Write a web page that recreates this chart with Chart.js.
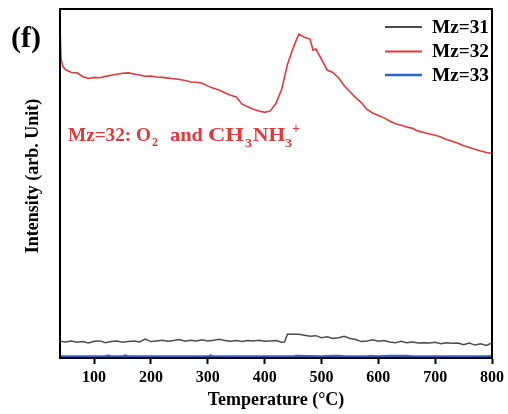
<!DOCTYPE html>
<html>
<head>
<meta charset="utf-8">
<script src="https://cdn.jsdelivr.net/npm/chart.js@4.4.0/dist/chart.umd.min.js"></script>
<style>
html,body{margin:0;padding:0;background:#fff;}
#wrap{width:508px;height:414px;position:relative;}
</style>
</head>
<body>
<div id="wrap"><canvas id="c" width="508" height="414"></canvas></div>
<script>
// ---- data ----
const seriesNames = ['Mz=31', 'Mz=32', 'Mz=33'];
const seriesColors = ['#4d4d4d', '#e03a3c', '#2a66c8'];
const xTicks = [100, 200, 300, 400, 500, 600, 700, 800];

const temps32 = [40,42,45,50,60,70,80,90,100,110,120,130,140,150,160,170,180,190,200,210,220,230,240,250,260,270,280,290,300,310,320,330,340,350,360,370,380,390,400,410,420,430,440,450,460,470,480,485,490,500,510,520,530,540,550,560,570,580,590,600,610,620,630,640,650,660,670,680,690,700,710,720,730,740,750,760,770,780,790,800];
const mz32 = [95.1,85.6,83.5,82.6,81.8,81.7,80.6,80.1,80.4,80.3,80.7,81.0,81.3,81.6,81.7,81.4,81.1,80.7,80.8,80.5,80.4,80.2,80.0,79.8,79.5,79.1,79.0,78.7,77.9,77.3,76.8,76.0,75.3,74.8,72.8,72.0,71.3,70.8,70.4,70.8,73.0,77.0,84.0,88.8,92.8,91.9,91.4,88.2,88.6,85.6,82.5,81.8,80.3,78.0,76.3,74.6,73.2,71.2,70.2,69.5,68.8,67.9,67.1,66.7,66.2,65.8,65.0,64.6,64.2,63.8,63.3,62.6,62.1,61.5,60.8,60.3,59.8,59.3,58.9,58.6];

const temps31 = [40,50,60,70,80,90,100,110,120,130,140,150,160,170,180,190,200,210,220,230,240,250,260,270,280,290,300,310,320,330,340,350,360,370,380,390,400,410,420,430,435,440,450,460,470,480,490,500,510,520,530,540,550,560,570,580,590,600,610,620,630,640,650,660,670,680,690,700,710,720,730,740,750,760,770,780,790,800];
const mz31 = [4.8,4.6,4.9,4.5,4.7,4.3,4.8,4.9,4.4,4.7,4.9,4.5,4.7,4.9,4.6,5.4,4.7,4.9,5.1,4.8,5.0,5.3,4.8,5.1,4.9,5.2,4.9,5.1,5.4,5.0,4.8,5.0,4.7,5.0,4.9,5.1,4.8,4.9,5.0,4.5,4.6,6.8,6.8,6.8,6.5,6.2,6.4,5.8,6.1,5.6,5.8,6.2,5.6,5.3,4.7,4.9,5.2,4.8,5.0,4.6,4.4,4.8,4.4,4.6,4.3,4.4,4.3,4.5,4.1,4.4,4.2,4.3,3.8,4.3,3.7,4.1,3.6,4.3];

const temps33 = [40,80,120,125,130,150,155,160,200,300,305,310,400,450,455,500,520,530,540,580,585,600,620,640,650,660,700,760,790,800];
const mz33 = [0.4,0.4,0.4,0.7,0.4,0.4,0.7,0.4,0.4,0.4,0.7,0.4,0.4,0.4,0.6,0.4,0.6,0.6,0.4,0.4,0.6,0.4,0.6,0.6,0.6,0.4,0.4,0.4,0.4,0.5];

const annotationTexts = ['Mz=32: O', '2', 'and', 'CH', '3', 'NH', '3', '+'];

function pts(xs, ys){ return xs.map((x,i)=>({x:x, y:ys[i]})); }

const SERIF = '"Liberation Serif", "Times New Roman", serif';

// draw text fitted into a given width (horizontal scaling)
function fitText(ctx, t, x, y, w){
  const m = ctx.measureText(t).width;
  ctx.save();
  ctx.translate(x, y);
  ctx.scale(w / m, 1);
  ctx.fillText(t, 0, 0);
  ctx.restore();
}

const overlay = {
  id: 'overlay',
  afterDraw(chart){
    const ctx = chart.ctx;
    const a = chart.chartArea;
    ctx.save();
    // frame
    ctx.strokeStyle = '#000';
    ctx.lineWidth = 2;
    ctx.strokeRect(a.left, a.top, a.right - a.left, a.bottom - a.top);

    // panel label
    ctx.fillStyle = '#000';
    ctx.font = 'bold 30px ' + SERIF;
    ctx.textAlign = 'left';
    ctx.textBaseline = 'middle';
    ctx.fillText('(f)', 11, 39);

    // y title
    ctx.save();
    ctx.translate(33, 176);
    ctx.rotate(-Math.PI/2);
    ctx.font = 'bold 18px ' + SERIF;
    ctx.textAlign = 'center';
    ctx.textBaseline = 'middle';
    ctx.fillText('Intensity (arb. Unit)', 0, 0);
    ctx.restore();

    // legend
    ctx.font = 'bold 19px ' + SERIF;
    ctx.textAlign = 'left';
    ctx.textBaseline = 'middle';
    const rows = [27, 51.5, 75];
    seriesNames.forEach((n,i)=>{
      ctx.strokeStyle = seriesColors[i];
      ctx.lineWidth = i === 2 ? 2.5 : 1.8;
      ctx.beginPath();
      ctx.moveTo(385, rows[i]);
      ctx.lineTo(422, rows[i]);
      ctx.stroke();
      ctx.fillStyle = '#000';
      fitText(ctx, n, 432, rows[i] + 1, 57);
    });

    // annotation (Mz=32: O2 and CH3NH3+)
    ctx.fillStyle = seriesColors[1];
    ctx.textBaseline = 'alphabetic';
    const big = 'bold 19px ' + SERIF, sub = 'bold 13px ' + SERIF, sup = 'bold 15px ' + SERIF;
    const T = annotationTexts;
    ctx.font = big; fitText(ctx, T[0], 68, 140.5, 83);
    ctx.font = sub; fitText(ctx, T[1], 152, 146, 6);
    ctx.font = big; fitText(ctx, T[2], 170, 140.5, 33);
    ctx.font = big; fitText(ctx, T[3], 208, 140.5, 36);
    ctx.font = sub; fitText(ctx, T[4], 245, 146.5, 7);
    ctx.font = big; fitText(ctx, T[5], 253, 140.5, 32);
    ctx.font = sub; fitText(ctx, T[6], 285, 146.5, 7);
    ctx.font = sup; fitText(ctx, T[7], 292, 133, 8);
    ctx.restore();
  }
};

new Chart(document.getElementById('c'), {
  type: 'line',
  data: {
    datasets: [
      {label: seriesNames[0], data: pts(temps31, mz31), borderColor: seriesColors[0], borderWidth: 1.5, pointRadius: 0, tension: 0},
      {label: seriesNames[1], data: pts(temps32, mz32), borderColor: seriesColors[1], borderWidth: 1.6, pointRadius: 0, tension: 0},
      {label: seriesNames[2], data: pts(temps33, mz33), borderColor: seriesColors[2], borderWidth: 2.5, pointRadius: 0, tension: 0}
    ]
  },
  options: {
    responsive: false,
    animation: false,
    layout: {padding: {top: 9, right: 15, left: 0, bottom: 0}},
    plugins: {legend: {display: false}, tooltip: {enabled: false}},
    scales: {
      x: {
        type: 'linear',
        min: 40, max: 800,
        afterBuildTicks(scale){ scale.ticks = xTicks.map(v=>({value: v})); },
        afterFit(scale){ scale.height = 56; },
        ticks: {color: '#000', font: {family: SERIF, size: 16, weight: 'bold'}, padding: 4, maxRotation: 0},
        grid: {drawOnChartArea: false, drawTicks: true, tickLength: 6, tickWidth: 2, color: '#000'},
        border: {display: true, color: '#000', width: 2},
        title: {display: true, text: 'Temperature (°C)', color: '#000', font: {family: SERIF, size: 18, weight: 'bold'}, padding: {top: 0, bottom: 3}}
      },
      y: {
        min: 0, max: 100,
        afterFit(scale){ scale.width = 60; },
        ticks: {display: false},
        grid: {display: false},
        border: {display: true, color: '#000', width: 2}
      }
    }
  },
  plugins: [overlay]
});
</script>
</body>
</html>
